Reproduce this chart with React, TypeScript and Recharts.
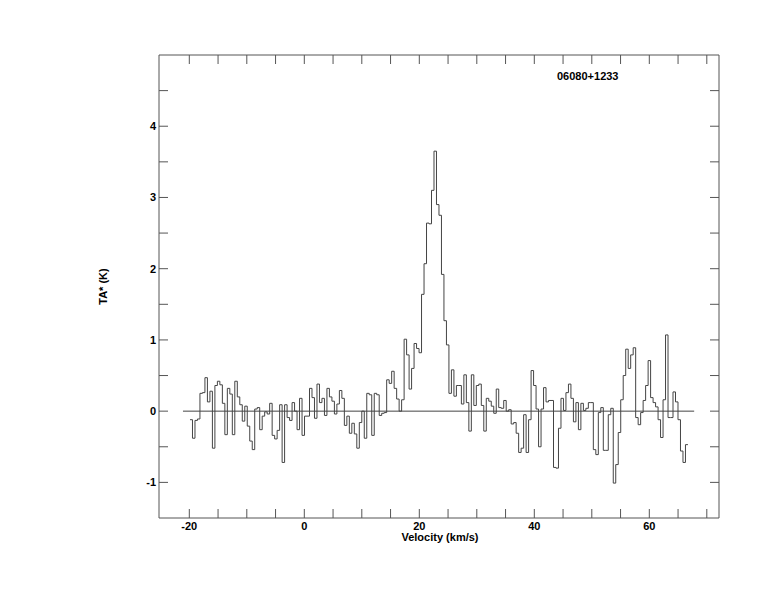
import { Line, LineChart, ReferenceLine, XAxis, YAxis } from "recharts";

// channel grid of the spectrum (km/s)
const V_START = -19.88;
const CHANNEL_WIDTH = 0.433;

// antenna temperature per channel (K)
const TA = [
  -0.12, -0.38, -0.13, -0.11, 0.25, 0.26, 0.47, 0.13, 0.28, -0.52,
  0.36, 0.42, 0.37, 0.11, -0.33, 0.32, 0.24, -0.33, 0.42, 0.2,
  0.09, -0.14, 0.07, -0.21, -0.42, -0.54, 0.03, 0.05, -0.26, -0.07,
  -0.01, -0.04, 0.11, -0.34, -0.39, -0.27, 0.09, -0.72, 0.09, -0.09,
  -0.13, 0.12, 0.0, -0.26, 0.18, -0.34, -0.07, -0.07, 0.32, 0.19,
  -0.1, 0.38, 0.12, 0.18, -0.06, 0.32, 0.2, 0.14, -0.04, 0.1,
  0.29, 0.18, -0.2, -0.07, -0.31, -0.17, -0.32, -0.52, -0.16, 0.0,
  -0.38, 0.25, 0.23, -0.34, 0.25, 0.23, -0.06, -0.03, -0.02, 0.44,
  0.39, 0.56, 0.32, 0.17, 0.0, 0.16, 1.01, 0.79, 0.31, 0.6,
  0.95, 0.88, 0.82, 1.64, 2.07, 2.64, 2.63, 3.1, 3.65, 2.9,
  2.75, 1.92, 1.27, 0.93, 0.25, 0.58, 0.21, 0.36, 0.36, 0.1,
  0.51, 0.12, -0.28, 0.51, 0.08, 0.36, 0.38, 0.08, -0.28, 0.18,
  0.14, 0.07, -0.03, 0.31, 0.05, 0.04, 0.15, 0.0, 0.02, -0.18,
  -0.16, -0.31, -0.58, -0.52, -0.05, -0.58, -0.12, 0.57, 0.36, 0.03,
  -0.5, 0.03, 0.33, 0.13, 0.15, 0.15, -0.79, -0.8, -0.24, 0.18,
  0.01, 0.26, 0.38, 0.18, -0.15, 0.12, -0.26, 0.11, 0.01, 0.04,
  0.12, 0.12, -0.54, -0.61, -0.02, 0.05, -0.55, -0.55, -0.05, 0.04,
  -1.01, -0.75, -0.3, 0.16, 0.5, 0.87, 0.6, 0.79, 0.89, -0.09,
  -0.19, -0.02, 0.15, 0.36, 0.71, 0.19, 0.12, 0.06, -0.12, -0.37,
  0.16, 1.07, -0.09, -0.09, 0.27, 0.13, -0.12, -0.56, -0.72, -0.47,
];

const X_LABEL_TICKS = [-20, 0, 20, 40, 60];
const X_MINOR_TICKS = [-20, -15, -10, -5, 0, 5, 10, 15, 20, 25, 30, 35, 40, 45, 50, 55, 60, 65, 70];
const Y_LABEL_TICKS = [-1, 0, 1, 2, 3, 4];
const Y_MINOR_TICKS = [-1, -0.5, 0, 0.5, 1, 1.5, 2, 2.5, 3, 3.5, 4, 4.5];
const BASELINE_RANGE = [-21.1, 67.8];

const SOURCE = "06080+1233";

// one point per channel edge, last value repeated so the final step is closed
const data = TA.map((ta, i) => ({ v: V_START + i * CHANNEL_WIDTH, ta })).concat([
  { v: V_START + TA.length * CHANNEL_WIDTH, ta: TA[TA.length - 1] },
]);

const X_DOMAIN: [number, number] = [-25.27, 72.12];
const Y_DOMAIN: [number, number] = [-1.5, 5];

const FRAME = "#555";
const FONT = "'Liberation Sans', Arial, Helvetica, sans-serif";
const tickText = { fill: "#000", fontSize: 11, fontWeight: "bold", fontFamily: FONT };

// tick marks only, no label
const NoLabel = () => <g />;

export default function App() {
  return (
    <div style={{ position: "relative", width: 758, height: 596, fontFamily: FONT }}>
      <LineChart
        width={758}
        height={596}
        data={data}
        margin={{ top: 47, right: 47, bottom: 56, left: 111 }}
      >
        <XAxis
          xAxisId="b"
          dataKey="v"
          type="number"
          domain={X_DOMAIN}
          allowDataOverflow
          ticks={X_LABEL_TICKS}
          interval={0}
          height={30}
          tickSize={0}
          tickMargin={4}
          tickLine={false}
          axisLine={{ stroke: FRAME }}
          tick={tickText}
        />
        <XAxis
          xAxisId="bt"
          dataKey="v"
          type="number"
          domain={X_DOMAIN}
          allowDataOverflow
          ticks={X_MINOR_TICKS}
          interval={0}
          mirror
          tickSize={9}
          tick={NoLabel}
          axisLine={false}
          tickLine={{ stroke: FRAME }}
        />
        <XAxis
          xAxisId="t"
          dataKey="v"
          orientation="top"
          type="number"
          domain={X_DOMAIN}
          allowDataOverflow
          ticks={X_MINOR_TICKS}
          interval={0}
          mirror
          tickSize={9}
          tick={NoLabel}
          axisLine={{ stroke: FRAME }}
          tickLine={{ stroke: FRAME }}
        />
        <YAxis
          yAxisId="l"
          type="number"
          domain={Y_DOMAIN}
          allowDataOverflow
          ticks={Y_LABEL_TICKS}
          interval={0}
          width={40}
          tickSize={0}
          tickMargin={3}
          tickLine={false}
          axisLine={{ stroke: FRAME }}
          tick={tickText}
        />
        <YAxis
          yAxisId="lt"
          type="number"
          domain={Y_DOMAIN}
          allowDataOverflow
          ticks={Y_MINOR_TICKS}
          interval={0}
          mirror
          tickSize={9}
          tick={NoLabel}
          axisLine={false}
          tickLine={{ stroke: FRAME }}
        />
        <YAxis
          yAxisId="r"
          orientation="right"
          type="number"
          domain={Y_DOMAIN}
          allowDataOverflow
          ticks={Y_MINOR_TICKS}
          interval={0}
          mirror
          tickSize={9}
          tick={NoLabel}
          axisLine={{ stroke: FRAME }}
          tickLine={{ stroke: FRAME }}
        />
        <ReferenceLine
          xAxisId="b"
          yAxisId="l"
          segment={[
            { x: BASELINE_RANGE[0], y: 0 },
            { x: BASELINE_RANGE[1], y: 0 },
          ]}
          stroke="#444"
        />
        <Line
          xAxisId="b"
          yAxisId="l"
          dataKey="ta"
          type="stepAfter"
          stroke="#444"
          strokeWidth={1}
          dot={false}
          activeDot={false}
          isAnimationActive={false}
        />
      </LineChart>
      <div
        style={{
          position: "absolute",
          left: 549,
          top: 62,
          fontSize: 11,
          lineHeight: "13px",
          fontWeight: "bold",
        }}
      >
        {SOURCE}
      </div>
      <div
        style={{
          position: "absolute",
          left: 332,
          top: 524,
          width: 200,
          textAlign: "center",
          fontSize: 11,
          lineHeight: "11px",
          fontWeight: "bold",
        }}
      >
        Velocity (km/s)
      </div>
      <div
        style={{
          position: "absolute",
          left: 95 - 50,
          top: 278 - 6,
          width: 100,
          textAlign: "center",
          fontSize: 11,
          lineHeight: "13px",
          fontWeight: "bold",
          transform: "rotate(-90deg)",
        }}
      >
        TA* (K)
      </div>
    </div>
  );
}
